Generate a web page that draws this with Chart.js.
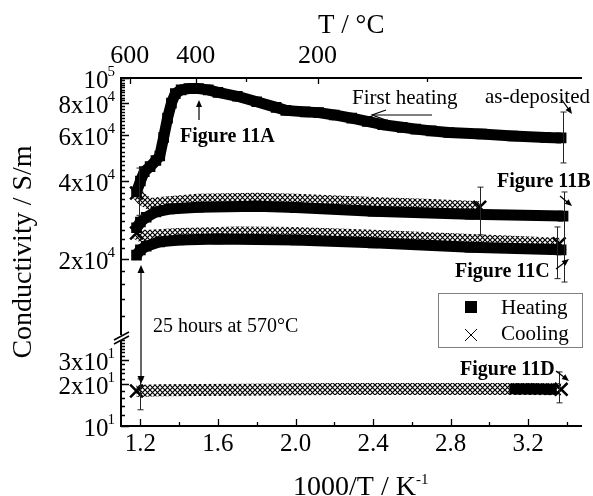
<!DOCTYPE html>
<html>
<head>
<meta charset="utf-8">
<script src="https://cdn.jsdelivr.net/npm/chart.js@4.4.1/dist/chart.umd.min.js"></script>
<style>
  html, body { margin: 0; padding: 0; background: #fff; }
  #wrap { width: 593px; height: 496px; }
</style>
</head>
<body>
<div id="wrap"><canvas id="cond" width="593" height="496"></canvas></div>
<script>
// x = 1000/T in K^-1, y = conductivity in S/m

// first heating of the as-deposited film
var firstHeatX = [1.18, 1.20, 1.22, 1.25, 1.28, 1.30, 1.32, 1.34, 1.36, 1.38, 1.41, 1.45, 1.50, 1.55, 1.60, 1.70,
                  1.80, 1.90, 1.95, 2.05, 2.12, 2.20, 2.29, 2.37, 2.45, 2.55, 2.62, 2.70, 2.79, 2.96, 3.12, 3.29, 3.37];
var firstHeatY = [36300, 40000, 43500, 45500, 48000, 50000, 59000, 70000, 80000, 87000, 90000, 91000, 91000, 90000, 88000, 85000,
                  81000, 77000, 75000, 74000, 73500, 72000, 70000, 68000, 66000, 64500, 63500, 62500, 61600, 60800, 59700, 58900, 58700];

// 11B
var heatBX = [1.18, 1.20, 1.23, 1.28, 1.35, 1.50, 1.80, 2.00, 2.40, 2.90, 3.38];
var heatBY = [26400, 27800, 29000, 30400, 31200, 31700, 32000, 31600, 30600, 29800, 29300];
var coolBX = [1.18, 1.21, 1.25, 1.30, 1.50, 1.80, 2.00, 2.40, 2.70, 2.95];
var coolBY = [36000, 33900, 32600, 32900, 33900, 34200, 33900, 32900, 32300, 31700];

// 11C
var heatCX = [1.18, 1.20, 1.23, 1.30, 1.40, 1.60, 2.00, 2.40, 2.90, 3.37];
var heatCY = [20700, 21700, 22400, 23300, 23700, 23900, 23700, 23100, 22200, 21700];
var coolCX = [1.18, 1.20, 1.25, 1.40, 1.70, 2.00, 2.40, 2.90, 3.36];
var coolCY = [25200, 24600, 24600, 25000, 25300, 25200, 24600, 23700, 22900];

// 11D, after 25 h at 570 C
var coolDX = [1.18, 1.30, 1.50, 1.75, 2.00, 2.25, 2.50, 2.75, 3.00, 3.20, 3.37];
var coolDY = [17.9, 18.1, 18.2, 18.3, 18.4, 18.5, 18.5, 18.5, 18.5, 18.5, 18.4];
var heatDX = [3.13, 3.22, 3.32];
var heatDY = [18.5, 18.5, 18.4];

// error bars
var errX  = [1.195, 3.38, 2.95, 3.385, 3.35, 1.196, 3.358];
var errHi = [44900, 73900, 37900, 36300, 26600, 21.9, 24.6];
var errLo = [29500, 47000, 24800, 16300, 16800, 13.1, 14.7];

var seriesNames = ['Heating', 'Cooling'];

var xTicks = [1.2, 1.4, 1.6, 1.8, 2.0, 2.2, 2.4, 2.6, 2.8, 3.0, 3.2, 3.4];
var xTickLabels = ['1.2', '', '1.6', '', '2.0', '', '2.4', '', '2.8', '', '3.2', ''];
var topTicksC = [600, 400, 300, 200, 100];
var topTickLabels = ['600', '400', '', '200', ''];
var yMajor = [10, 20, 30, 20000, 40000, 60000, 80000, 100000];
var yMajorBase = ['10', '2x10', '3x10', '2x10', '4x10', '6x10', '8x10', '10'];
var yMajorExp = ['1', '1', '1', '4', '4', '4', '4', '5'];

var FONT = '"Liberation Serif", "Times New Roman", serif';
Chart.defaults.color = '#000';
Chart.defaults.font.family = FONT;

// broken log axis: 10..44 S/m under the break, 1e4..1e5 S/m above it
var LOW_MIN = 10, LOW_MAX = 44, HIGH_MIN = 1e4, HIGH_MAX = 1e5, LOW_SHARE = 89 / 348;

function splitFraction(v) {
  if (v <= LOW_MAX) return LOW_SHARE * Math.log10(v / LOW_MIN) / Math.log10(LOW_MAX / LOW_MIN);
  return LOW_SHARE + (1 - LOW_SHARE) * Math.log10(v / HIGH_MIN) / Math.log10(HIGH_MAX / HIGH_MIN);
}
function splitValue(f) {
  if (f <= LOW_SHARE) return LOW_MIN * Math.pow(LOW_MAX / LOW_MIN, f / LOW_SHARE);
  return HIGH_MIN * Math.pow(HIGH_MAX / HIGH_MIN, (f - LOW_SHARE) / (1 - LOW_SHARE));
}

class SplitLogScale extends Chart.Scale {
  determineDataLimits() { this.min = LOW_MIN; this.max = HIGH_MAX; }
  buildTicks() { return yMajor.map(function (v) { return { value: v }; }); }
  getLabelForValue(v) { return String(v); }
  getPixelForValue(v) { return this.getPixelForDecimal(splitFraction(v)); }
  getValueForPixel(p) { return splitValue(this.getDecimalForPixel(p)); }
}
SplitLogScale.id = 'splitLog';
SplitLogScale.defaults = {};
Chart.register(SplitLogScale);

var canvas = document.getElementById('cond');
var ctx = canvas.getContext('2d');

// cross hatch that dense x markers leave behind
var tile = document.createElement('canvas');
tile.width = 5; tile.height = 5;
var tc = tile.getContext('2d');
tc.strokeStyle = '#000';
tc.lineWidth = 1.2;
tc.beginPath();
tc.moveTo(0, 0); tc.lineTo(5, 5);
tc.moveTo(5, 0); tc.lineTo(0, 5);
tc.stroke();
var hatch = ctx.createPattern(tile, 'repeat');

function pts(xs, ys) {
  return xs.map(function (x, i) { return { x: x, y: ys[i] }; });
}
function isEnd(c) {
  return c.dataIndex === 0 || c.dataIndex === c.dataset.data.length - 1;
}
function heatSet(xs, ys) {
  return {
    label: seriesNames[0], data: pts(xs, ys), showLine: true, order: 0,
    borderColor: '#000', borderWidth: 11, borderJoinStyle: 'round',
    pointStyle: 'rect', pointRadius: 7.5, pointBorderWidth: 0, pointBackgroundColor: '#000'
  };
}
function coolSet(xs, ys) {
  return {
    label: seriesNames[1], data: pts(xs, ys), showLine: true, order: 1,
    borderColor: hatch, borderWidth: 12, borderJoinStyle: 'round',
    pointStyle: 'crossRot',
    pointRadius: function (c) { return isEnd(c) ? 9 : 0; },
    pointBorderWidth: 2.5,
    pointBorderColor: '#000', pointBackgroundColor: 'rgba(0,0,0,0)'
  };
}

function arrow(c, x1, y1, x2, y2, len, half, open) {
  var a = Math.atan2(y2 - y1, x2 - x1);
  c.beginPath();
  c.moveTo(x1, y1);
  c.lineTo(open ? x2 : x2 - Math.cos(a) * len * 0.8, open ? y2 : y2 - Math.sin(a) * len * 0.8);
  c.stroke();
  var bx = x2 - Math.cos(a) * len, by = y2 - Math.sin(a) * len;
  var lx = bx + Math.sin(a) * half, ly = by - Math.cos(a) * half;
  var rx = bx - Math.sin(a) * half, ry = by + Math.cos(a) * half;
  c.beginPath();
  if (open) {
    c.moveTo(lx, ly); c.lineTo(x2, y2); c.lineTo(rx, ry);
    c.stroke();
  } else {
    c.moveTo(x2, y2); c.lineTo(lx, ly); c.lineTo(rx, ry); c.closePath();
    c.fill();
  }
}

var decorations = {
  id: 'decorations',
  afterDatasetsDraw: function (chart) {
    var c = chart.ctx;
    var area = chart.chartArea;
    var xs = chart.scales.x, ys = chart.scales.y, xt = chart.scales.xTop;
    c.save();
    c.strokeStyle = '#000';
    c.fillStyle = '#000';
    c.lineWidth = 1.3;

    // inward tick marks
    c.beginPath();
    xTicks.forEach(function (v, i) {
      var px = Math.round(xs.getPixelForValue(v)) + 0.5;
      c.moveTo(px, area.bottom);
      c.lineTo(px, area.bottom - (xTickLabels[i] ? 7 : 4));
    });
    topTicksC.forEach(function (t, i) {
      var px = Math.round(xt.getPixelForValue(1000 / (t + 273.15))) + 0.5;
      c.moveTo(px, area.top);
      c.lineTo(px, area.top + (topTickLabels[i] ? 6 : 4));
    });
    var minor = [];
    for (var m = 12; m < LOW_MAX; m += 2) minor.push(m);
    for (var n = 12000; n < HIGH_MAX; n += 2000) minor.push(n);
    minor.forEach(function (v) {
      var py = Math.round(ys.getPixelForValue(v)) + 0.5;
      c.moveTo(area.left, py);
      c.lineTo(area.left + 4, py);
    });
    yMajor.forEach(function (v) {
      var py = Math.round(ys.getPixelForValue(v)) + 0.5;
      c.moveTo(area.left, py);
      c.lineTo(area.left + 8, py);
    });
    c.stroke();

    // y tick labels with exponents
    c.textAlign = 'right';
    c.textBaseline = 'alphabetic';
    yMajor.forEach(function (v, i) {
      var py = ys.getPixelForValue(v);
      c.font = '15px ' + FONT;
      var ew = c.measureText(yMajorExp[i]).width;
      c.fillText(yMajorExp[i], 115, py - 2);
      c.font = '25px ' + FONT;
      c.fillText(yMajorBase[i], 115 - ew + 1, py + 10);
    });

    // axis break
    var by = ys.getPixelForDecimal(LOW_SHARE);
    c.fillStyle = '#fff';
    c.fillRect(area.left - 2, by - 2, 4, 5);
    c.fillStyle = '#000';
    c.lineWidth = 1.5;
    c.beginPath();
    c.moveTo(area.left - 7, by + 3); c.lineTo(area.left + 8, by - 5);
    c.moveTo(area.left - 7, by + 7); c.lineTo(area.left + 8, by - 1);
    c.stroke();

    // x title with superscript
    c.textAlign = 'left';
    c.font = '28px ' + FONT;
    var tw = c.measureText('1000/T / K').width;
    c.fillText('1000/T / K', 293, 495);
    c.font = '15px ' + FONT;
    c.fillText('-1', 293 + tw, 484);

    // error bars
    c.lineWidth = 1;
    c.strokeStyle = '#222';
    c.beginPath();
    errX.forEach(function (x, i) {
      var px = Math.round(xs.getPixelForValue(x)) + 0.5;
      var t = ys.getPixelForValue(errHi[i]), b = ys.getPixelForValue(errLo[i]);
      c.moveTo(px, t); c.lineTo(px, b);
      c.moveTo(px - 3, t); c.lineTo(px + 3, t);
      c.moveTo(px - 3, b); c.lineTo(px + 3, b);
    });
    c.stroke();

    // annotations
    c.strokeStyle = '#000';
    c.lineWidth = 1.2;
    c.font = 'bold 20px ' + FONT;
    c.fillText('Figure 11A', 180, 142);
    c.fillText('Figure 11B', 497, 187);
    c.fillText('Figure 11C', 455, 277);
    c.fillText('Figure 11D', 460, 375);
    c.font = '21px ' + FONT;
    c.fillText('First heating', 352, 104);
    c.fillText('as-deposited', 485, 103);
    c.font = '20px ' + FONT;
    c.fillText('25 hours at 570\u00b0C', 153, 332);

    arrow(c, 199, 120, 199, 100, 7, 3, false);
    arrow(c, 432, 115, 372, 115, 14, 5, true);
    arrow(c, 562, 100, 572, 114, 7, 3, false);
    arrow(c, 560, 196, 572, 206, 7, 3, false);
    arrow(c, 556, 269, 569, 259, 7, 3, false);
    arrow(c, 556, 371, 569, 381, 7, 3, false);
    arrow(c, 141, 320, 141, 265, 8, 3.5, false);
    arrow(c, 141, 320, 141, 384, 8, 3.5, false);

    // legend
    c.strokeStyle = '#808080';
    c.lineWidth = 1;
    c.strokeRect(438.5, 293.5, 144, 54);
    c.fillRect(465, 301, 12, 12);
    c.strokeStyle = '#000';
    c.beginPath();
    c.moveTo(465, 329); c.lineTo(477, 341);
    c.moveTo(477, 329); c.lineTo(465, 341);
    c.stroke();
    c.font = '21px ' + FONT;
    c.fillText(seriesNames[0], 501, 314);
    c.fillText(seriesNames[1], 501, 340);
    c.restore();
  }
};

new Chart(canvas, {
  type: 'scatter',
  data: {
    datasets: [
      heatSet(firstHeatX, firstHeatY),
      heatSet(heatBX, heatBY),
      heatSet(heatCX, heatCY),
      heatSet(heatDX, heatDY),
      coolSet(coolBX, coolBY),
      coolSet(coolCX, coolCY),
      coolSet(coolDX, coolDY)
    ]
  },
  options: {
    responsive: false,
    animation: false,
    layout: { padding: 0 },
    plugins: { legend: { display: false }, tooltip: { enabled: false } },
    scales: {
      x: {
        type: 'linear', position: 'bottom', min: 1.1, max: 3.475,
        afterFit: function (s) { s.height = 70; },
        afterBuildTicks: function (s) { s.ticks = xTicks.map(function (v) { return { value: v }; }); },
        ticks: {
          autoSkip: false, maxRotation: 0, padding: 3, color: '#000',
          font: { family: FONT, size: 25 },
          callback: function (v, i) { return xTickLabels[i]; }
        },
        grid: { display: false, drawTicks: false },
        border: { display: true, color: '#000', width: 2 }
      },
      xTop: {
        type: 'linear', position: 'top', min: 1.1, max: 3.475,
        afterFit: function (s) { s.height = 78; },
        afterBuildTicks: function (s) {
          s.ticks = topTicksC.map(function (t) { return { value: 1000 / (t + 273.15) }; });
        },
        ticks: {
          autoSkip: false, maxRotation: 0, padding: 6, color: '#000',
          font: { family: FONT, size: 26 },
          callback: function (v, i) { return topTickLabels[i]; }
        },
        grid: { display: false, drawTicks: false },
        border: { display: true, color: '#000', width: 2 },
        title: {
          display: true, text: 'T / \u00b0C', color: '#000',
          font: { family: FONT, size: 27 }, padding: { top: 10, bottom: 0 }
        }
      },
      y: {
        type: 'splitLog', position: 'left',
        afterFit: function (s) { s.width = 121; },
        ticks: { display: false },
        grid: { display: false, drawTicks: false },
        border: { display: true, color: '#000', width: 2 },
        title: {
          display: true, text: 'Conductivity / S/m', color: '#000',
          font: { family: FONT, size: 28 }, padding: { top: 7, bottom: 0 }
        }
      }
    }
  },
  plugins: [decorations]
});
</script>
</body>
</html>
